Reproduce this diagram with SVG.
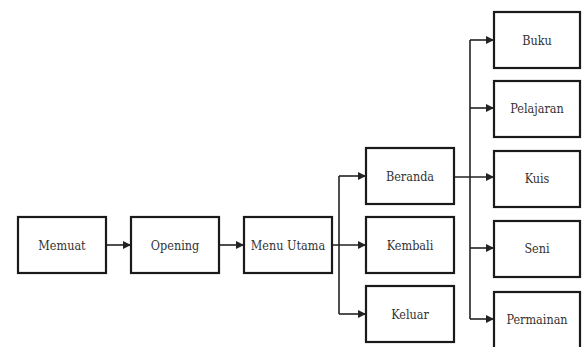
<svg xmlns="http://www.w3.org/2000/svg" width="582" height="347" viewBox="0 0 582 347">
<style>
.box{fill:#fff;stroke:#1a1a1a;stroke-width:2.2}
.lbl{font-family:'DejaVu Serif Condensed','DejaVu Serif',serif;font-size:12.5px;fill:#333;text-anchor:middle}
.ln{fill:none;stroke:#222;stroke-width:1.6}
</style>
<defs>
<marker id="ah" viewBox="0 0 10 10" refX="10" refY="5" markerWidth="8" markerHeight="8" markerUnits="userSpaceOnUse" orient="auto">
<path d="M0,0 L10,5 L0,10 z" fill="#222"/>
</marker>
</defs>
<rect width="582" height="347" fill="#fff"/>
<g id="connectors">
<path class="ln" d="M106,245 H131" marker-end="url(#ah)"/>
<path class="ln" d="M219,245 H244" marker-end="url(#ah)"/>
<path class="ln" d="M332,245 H366" marker-end="url(#ah)"/>
<path class="ln" d="M339,176 V314"/>
<path class="ln" d="M339,176 H366" marker-end="url(#ah)"/>
<path class="ln" d="M339,314 H366" marker-end="url(#ah)"/>
<path class="ln" d="M454,177 H494" marker-end="url(#ah)"/>
<path class="ln" d="M470,40 V319"/>
<path class="ln" d="M470,40 H494" marker-end="url(#ah)"/>
<path class="ln" d="M470,108 H494" marker-end="url(#ah)"/>
<path class="ln" d="M470,248 H494" marker-end="url(#ah)"/>
<path class="ln" d="M470,319 H494" marker-end="url(#ah)"/>
</g>
<g id="memuat"><rect class="box" x="18" y="217" width="88" height="56"/><text class="lbl" x="62" y="250">Memuat</text></g>
<g id="opening"><rect class="box" x="131" y="217" width="88" height="56"/><text class="lbl" x="175" y="250">Opening</text></g>
<g id="menu-utama"><rect class="box" x="244" y="217" width="88" height="56"/><text class="lbl" x="288" y="250">Menu Utama</text></g>
<g id="beranda"><rect class="box" x="366" y="148" width="88" height="56"/><text class="lbl" x="410" y="181">Beranda</text></g>
<g id="kembali"><rect class="box" x="366" y="217" width="88" height="56"/><text class="lbl" x="410" y="250">Kembali</text></g>
<g id="keluar"><rect class="box" x="366" y="286" width="88" height="56"/><text class="lbl" x="410" y="319">Keluar</text></g>
<g id="buku"><rect class="box" x="494" y="12" width="86" height="56"/><text class="lbl" x="537" y="45">Buku</text></g>
<g id="pelajaran"><rect class="box" x="494" y="81" width="86" height="56"/><text class="lbl" x="537" y="113">Pelajaran</text></g>
<g id="kuis"><rect class="box" x="494" y="151" width="86" height="56"/><text class="lbl" x="537" y="183">Kuis</text></g>
<g id="seni"><rect class="box" x="494" y="221" width="86" height="56"/><text class="lbl" x="537" y="253">Seni</text></g>
<g id="permainan"><rect class="box" x="494" y="292" width="86" height="58"/><text class="lbl" x="537" y="324">Permainan</text></g>
</svg>
